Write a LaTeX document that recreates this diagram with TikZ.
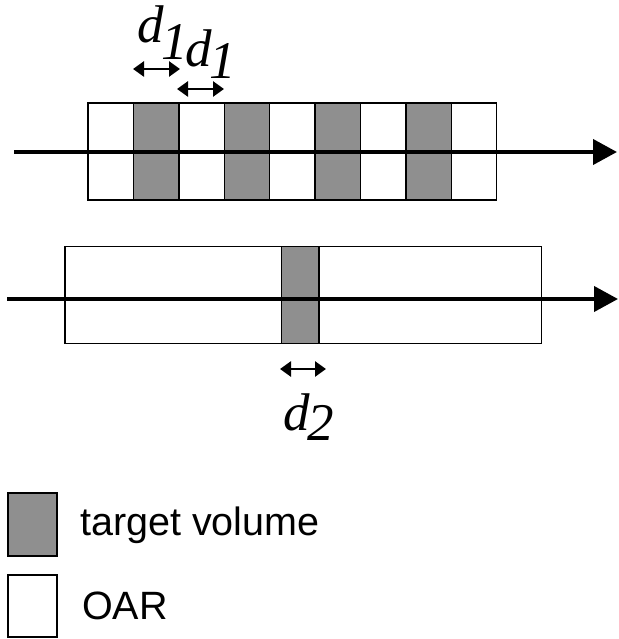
\documentclass[tikz,border=0pt]{standalone}
\usepackage{fontspec}
\setmainfont{Liberation Serif}
\newfontfamily\labelsans{Liberation Sans}
\usetikzlibrary{arrows.meta}

\definecolor{tvgrey}{gray}{0.56}

\tikzset{
  cell/.style={draw=black, line width=1.4pt, inner sep=0pt, outer sep=0pt,
               anchor=north west, minimum height=97pt},
  oarcell/.style={cell, fill=white},
  tvcell/.style={cell, fill=tvgrey},
  axis/.style={line width=4pt, -{Triangle[length=24pt,width=25pt]}},
  span/.style={line width=2.6pt, {Triangle[length=11pt,width=15pt]}-{Triangle[length=11pt,width=15pt]}},
  dlabel/.style={inner sep=0pt, anchor=base west, font=\fontsize{53}{53}\selectfont\itshape},
  legendtext/.style={inner sep=0pt, anchor=base west, font=\labelsans\fontsize{39.5}{39.5}\selectfont},
}

\begin{document}
\begin{tikzpicture}[x=1pt, y=-1pt]
  \useasboundingbox (0,0) rectangle (618,639);

  % periodic arrangement of target and OAR slabs
  \foreach \i in {0,...,8} {
    \pgfmathsetmacro{\xx}{88+45.4*\i}
    \ifodd\i
      \node[tvcell, minimum width=45.4pt] (top\i) at (\xx,103) {};
    \else
      \node[oarcell, minimum width=45.4pt] (top\i) at (\xx,103) {};
    \fi
  }
  \coordinate (ta) at (14,152);
  \coordinate (tb) at (617,152);
  \draw[axis] (ta) -- (tb);

  % spacing markers d1
  \coordinate (s1a) at (133,69);
  \coordinate (s1b) at (180,69);
  \draw[span] (s1a) -- (s1b);
  \coordinate (s2a) at (177,89);
  \coordinate (s2b) at (224,89);
  \draw[span] (s2a) -- (s2b);
  \node[dlabel] (da) at (137,43) {d\kern-2pt\raisebox{-17pt}{1}};
  \node[dlabel] (db) at (185,67) {d\kern-2pt\raisebox{-12pt}{1}};

  % single target slab between OAR
  \node[oarcell, minimum width=476.7pt, minimum height=96.6pt] (bot) at (65,246.7) {};
  \node[tvcell, minimum width=37.3pt, minimum height=96.6pt] (botT) at (281.7,246.7) {};
  \coordinate (ba) at (7,299);
  \coordinate (bb) at (618,299);
  \draw[axis] (ba) -- (bb);

  % width marker d2
  \coordinate (s3a) at (280,369);
  \coordinate (s3b) at (326,369);
  \draw[span] (s3a) -- (s3b);
  \node[dlabel] (dc) at (283,430) {d\kern-2pt\raisebox{-10pt}{2}};

  % legend
  \node[tvcell, minimum width=49pt, minimum height=63pt] (legT) at (8,493) {};
  \node[oarcell, minimum width=49pt, minimum height=62pt] (legO) at (8,575) {};
  \node[legendtext] (txtT) at (80,535) {target volume};
  \node[legendtext] (txtO) at (82,619) {OAR};
\end{tikzpicture}
\end{document}
